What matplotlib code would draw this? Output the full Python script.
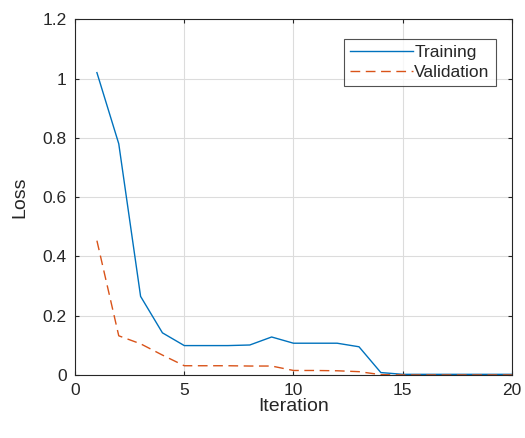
import matplotlib
matplotlib.use("Agg")
import matplotlib.pyplot as plt

iterations = list(range(1, 21))
training = [1.02, 0.78, 0.265, 0.142, 0.099, 0.099, 0.099, 0.101, 0.128, 0.107,
            0.107, 0.107, 0.095, 0.008, 0.002, 0.002, 0.002, 0.002, 0.002, 0.002]
validation = [0.453, 0.132, 0.105, 0.067, 0.031, 0.031, 0.031, 0.030, 0.030, 0.015,
              0.015, 0.014, 0.011, 0.001, 0.0, 0.0, 0.0, 0.0, 0.0, 0.0]
xticks = [0, 5, 10, 15, 20]
yticks = [0, 0.2, 0.4, 0.6, 0.8, 1.0, 1.2]
yticklabels = ["0", "0.2", "0.4", "0.6", "0.8", "1", "1.2"]

plt.rcParams['font.family'] = ['Liberation Sans', 'DejaVu Sans']
fig = plt.figure(figsize=(5.25, 4.38), dpi=100)
ax = fig.add_axes([0.143, 0.144, 0.832, 0.812])

ax.plot(iterations, training, color='#0072BD', lw=1.0, label='Training')
ax.plot(iterations, validation, color='#D95319', lw=1.0, ls=(0, (7, 4)), label='Validation')

ax.set_xlim(0, 20)
ax.set_ylim(0, 1.2)
ax.set_xticks(xticks)
ax.set_yticks(yticks)
ax.set_yticklabels(yticklabels)
ax.grid(True, color='#dcdcdc', lw=0.8)
ax.set_axisbelow(True)
ax.tick_params(direction='in', length=3, colors='#262626', labelsize=12.5, top=True, right=True,
               labeltop=False, labelright=False, pad=6)
for s in ax.spines.values():
    s.set_color('#262626')
    s.set_linewidth(0.8)
ax.set_xlabel('Iteration', fontsize=14, color='#262626', labelpad=0)
ax.set_ylabel('Loss', fontsize=14, color='#262626', labelpad=10)

leg = ax.legend(loc='upper right', bbox_to_anchor=(0.975, 0.96), fontsize=12.5, frameon=True,
                fancybox=False, edgecolor='#262626', handlelength=3.6, handletextpad=0.1,
                borderpad=0.35, labelspacing=0.3, borderaxespad=0.3)
leg.get_frame().set_linewidth(0.8)
for t in leg.get_texts():
    t.set_color('#262626')

fig.savefig('out.png', dpi=100, facecolor='white')
